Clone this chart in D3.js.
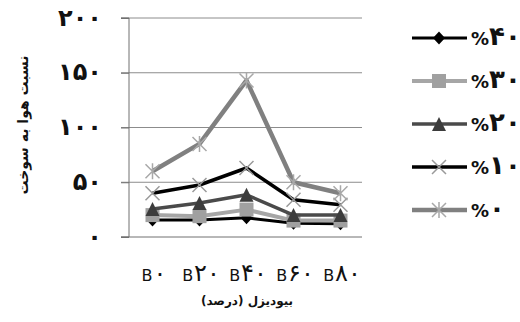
<!DOCTYPE html>
<html>
<head>
<meta charset="utf-8">
<script src="https://cdn.jsdelivr.net/npm/d3@7"></script>
<style>
  body { margin: 0; background: #fff; }
  text { font-family: "DejaVu Sans", sans-serif; }
</style>
</head>
<body>
<div id="chart"></div>
<script>
// categories and series
var categories = ["B۰", "B۲۰", "B۴۰", "B۶۰", "B۸۰"];
var seriesNames = ["%۴۰", "%۳۰", "%۲۰", "%۱۰", "%۰"];
var s40 = [15.5, 15.5, 17.5, 12.5, 12];
var s30 = [20, 19, 25, 15, 15];
var s20 = [25.5, 31, 38.5, 20, 20];
var s10 = [40, 47.5, 63, 34, 29.5];
var s0 = [60, 85, 143, 50, 40];
var yTicks = [0, 50, 100, 150, 200];
var yTickLabels = ["۰", "۵۰", "۱۰۰", "۱۵۰", "۲۰۰"];

var svgWidth = 520, svgHeight = 322;
var plot = { left: 129, right: 364, top: 18, bottom: 237 };

var svg = d3.select("#chart").append("svg")
  .attr("width", svgWidth)
  .attr("height", svgHeight);

var x = d3.scalePoint().domain(categories).range([plot.left, plot.right]).padding(0.5);
var y = d3.scaleLinear().domain([0, 200]).range([plot.bottom, plot.top]);

// persian digits in DejaVu come out small, so they get their own bigger tspan
function mixedText(sel, str, digitSize) {
  sel.text(null);
  var parts = str.match(/[۰-۹]+|[^۰-۹]+/g);
  parts.forEach(function(p) {
    var t = sel.append("tspan").text(p);
    if (/[۰-۹]/.test(p)) t.attr("font-size", digitSize);
  });
}

// gridlines
svg.append("g").selectAll("line")
  .data(yTicks.slice(1))
  .enter().append("line")
  .attr("x1", plot.left - 8).attr("x2", plot.right - 2)
  .attr("y1", d => y(d)).attr("y2", d => y(d))
  .attr("stroke", "#8c8c8c").attr("stroke-width", 1);

// left axis
var leftAxis = d3.axisLeft(y).tickValues(yTicks).tickSize(8).tickFormat((d, i) => yTickLabels[i]);
var gy = svg.append("g").attr("transform", `translate(${plot.left},0)`).call(leftAxis);
gy.select(".domain").attr("stroke", "#707070").attr("d", `M-8,${plot.top}H0V${plot.bottom}H-8`);
gy.selectAll(".tick line").attr("stroke", "#707070");
gy.selectAll(".tick text")
  .attr("x", -27)
  .attr("dy", "0.3em")
  .attr("font-size", "24px")
  .attr("font-weight", "bold")
  .attr("letter-spacing", "3px")
  .attr("fill", "#111")
  .attr("font-family", "DejaVu Sans");

// bottom line
svg.append("line")
  .attr("x1", plot.left - 8).attr("x2", plot.right - 2)
  .attr("y1", plot.bottom).attr("y2", plot.bottom)
  .attr("stroke", "#707070");

// x labels
var bottomAxis = d3.axisBottom(x).tickSize(0).tickPadding(0);
var gx = svg.append("g").attr("transform", `translate(0,${plot.bottom})`).call(bottomAxis);
gx.select(".domain").remove();
gx.selectAll(".tick text")
  .attr("y", 44)
  .attr("dy", 0)
  .attr("dx", 1)
  .attr("font-size", "16px")
  .attr("letter-spacing", "1px")
  .attr("fill", "#111")
  .attr("font-family", "DejaVu Sans")
  .each(function(d) { mixedText(d3.select(this), d, "24px"); });

// series styling
var series = [
  { name: seriesNames[0], values: s40, color: "#000", width: 3, marker: "diamond", mcolor: "#000" },
  { name: seriesNames[1], values: s30, color: "#a6a6a6", width: 4, marker: "square", mcolor: "#a0a0a0" },
  { name: seriesNames[2], values: s20, color: "#4a4a4a", width: 3.5, marker: "triangle", mcolor: "#3c3c3c" },
  { name: seriesNames[3], values: s10, color: "#000", width: 3.5, marker: "x", mcolor: "#9a9a9a" },
  { name: seriesNames[4], values: s0, color: "#808080", width: 4.5, marker: "star", mcolor: "#a8a8a8" }
];

var line = d3.line().x((d, i) => x(categories[i])).y(d => y(d));

function drawMarker(g, type, color) {
  if (type === "diamond") {
    g.append("path").attr("d", "M0,-6.5L6,0L0,6.5L-6,0Z").attr("fill", color);
  } else if (type === "square") {
    g.append("rect").attr("x", -7).attr("y", -7).attr("width", 14).attr("height", 14).attr("fill", color);
  } else if (type === "triangle") {
    g.append("path").attr("d", "M0,-7L7,7L-7,7Z").attr("fill", color);
  } else if (type === "x") {
    g.append("path").attr("d", "M-7,-7L7,7M7,-7L-7,7").attr("stroke", color).attr("stroke-width", 1.5).attr("fill", "none");
  } else {
    g.append("path").attr("d", "M-7,-7L7,7M7,-7L-7,7M0,-8V8").attr("stroke", color).attr("stroke-width", 1.5).attr("fill", "none");
  }
}

series.forEach(function(s) {
  var g = svg.append("g");
  g.append("path")
    .datum(s.values)
    .attr("d", line)
    .attr("fill", "none")
    .attr("stroke", s.color)
    .attr("stroke-width", s.width)
    .attr("stroke-linejoin", "round");
  g.selectAll("g.m")
    .data(s.values)
    .enter().append("g")
    .attr("class", "m")
    .attr("transform", (d, i) => `translate(${x(categories[i])},${y(d)})`)
    .each(function() { drawMarker(d3.select(this), s.marker, s.mcolor); });
});

// legend
var legend = svg.append("g");
series.forEach(function(s, i) {
  var ly = 38 + i * 43;
  var lg = legend.append("g").attr("transform", `translate(0,${ly})`);
  lg.append("line").attr("x1", 412).attr("x2", 467).attr("y1", 0).attr("y2", 0)
    .attr("stroke", s.color).attr("stroke-width", s.width);
  var mg = lg.append("g").attr("transform", "translate(439,0)");
  drawMarker(mg, s.marker, s.mcolor);
  var t = lg.append("text")
    .attr("x", 471).attr("y", 7)
    .attr("font-size", "18px")
    .attr("font-weight", "bold")
    .attr("letter-spacing", "1px")
    .attr("fill", "#111")
    .attr("direction", "ltr");
  mixedText(t, s.name, "26px");
});

// axis titles
svg.append("text")
  .attr("transform", "translate(28,125) rotate(-90)")
  .attr("text-anchor", "middle")
  .attr("font-size", "14px")
  .attr("font-weight", "bold")
  .attr("fill", "#111")
  .text("نسبت هوا به سوخت");

svg.append("text")
  .attr("x", 247).attr("y", 305)
  .attr("text-anchor", "middle")
  .attr("font-size", "12px")
  .attr("font-weight", "bold")
  .attr("fill", "#111")
  .text("بیودیزل (درصد)");
</script>
</body>
</html>
